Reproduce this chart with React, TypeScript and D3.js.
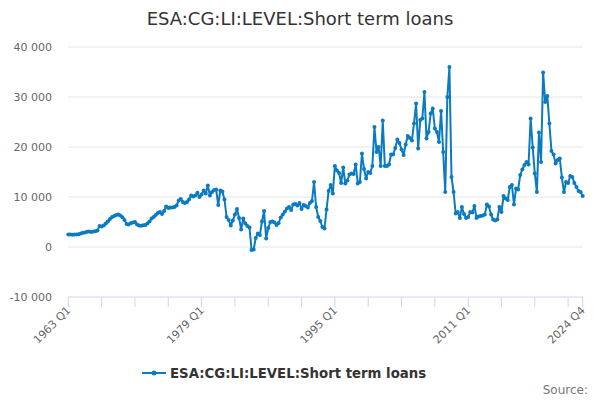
import * as d3 from "d3";

// quarterly series, 1963 Q1 .. 2024 Q4
const startYear = 1963;
const values: number[] = [
  2500, 2500, 2450, 2500, 2500, 2550, 2700, 2850, 2900, 3050,
  3100, 3000, 3100, 3150, 3300, 4200, 4100, 4300, 4700, 5100,
  5600, 6000, 6200, 6400, 6500, 6300, 5950, 5400, 4600, 4500,
  4750, 4900, 5000, 4500, 4300, 4250, 4350, 4400, 4700, 5100,
  5700, 6000, 6400, 6800, 7000, 6600, 7200, 8100, 7800, 7900,
  7900, 8000, 8300, 9300, 9600, 9000, 8800, 9000, 9500, 10300,
  10100, 10300, 10850, 10000, 10500, 11300, 10700, 12300, 10300, 11000,
  11400, 11500, 8400, 11300, 11100, 9500, 6000, 5400, 4300, 5300,
  6500, 7600, 5800, 3500, 5700, 4700, 4200, 3900, -600, -500,
  1800, 2700, 2400, 5100, 7200, 1700, 3800, 5000, 5100, 4900,
  4400, 4800, 5900, 6500, 7100, 7700, 8000, 7400, 8500, 8600,
  8300, 8800, 7600, 8400, 8200, 7900, 8800, 9200, 13000, 8000,
  6000, 5200, 4000, 3700, 7500, 11200, 12400, 10700, 16200, 15300,
  14800, 12800, 15900, 12700, 13300, 14500, 14700, 14600, 16500, 12700,
  13000, 18700, 15600, 13700, 15000, 14800, 16200, 24000, 19000, 20000,
  16200, 25300, 16200, 16200, 16500, 18500, 18500, 19800, 21500, 20800,
  19500, 18400, 20500, 22200, 21800, 21300, 24700, 28700, 19700, 25400,
  25700, 31000, 21700, 23000, 26700, 27700, 23700, 23000, 21000, 27200,
  19000, 11000, 30000, 36000, 14000, 11000, 6700, 7000, 5800, 8000,
  6600, 5800, 6000, 7000, 6900, 8200, 5800, 6100, 6200, 6300,
  6500, 8500, 8100, 6500, 5500, 5300, 5500, 8000, 7000, 10200,
  9700, 9400, 12000, 12400, 8500, 11700, 11500, 14400, 15500, 16400,
  17000, 16500, 25700, 19900, 14700, 11000, 22900, 17000, 34900, 29000,
  30200, 24700, 19200, 18500, 16700, 17400, 17700, 13900, 11000, 13000,
  12800, 14200, 14000, 12800, 12000, 11200, 11000, 10200,
];
const categories = values.map((_, i) => `${startYear + Math.floor(i / 4)} Q${(i % 4) + 1}`);
const labelledCats = ["1963 Q1", "1979 Q1", "1995 Q1", "2011 Q1", "2024 Q4"];
const yTicks = [-10000, 0, 10000, 20000, 30000, 40000];
const seriesName = "ESA:CG:LI:LEVEL:Short term loans";
const title = "ESA:CG:LI:LEVEL:Short term loans";

const W = 600, H = 400;
const ML = 68, MR = 17, MT = 47, MB = 103;
const COLOR = "#0b7bc1";
const FONT = "'DejaVu Sans', sans-serif";

const fmt = d3.formatLocale({ decimal: ".", thousands: " ", grouping: [3], currency: ["", ""], minus: "-" }).format(",");

export default function App() {
  const x = d3.scaleLinear().domain([0, categories.length - 1]).range([ML + 0.3, W - MR - 0.3]);
  const y = d3.scaleLinear().domain([-10000, 40000]).range([H - MB, MT]);

  const line = d3.line<number>().x((_, i) => x(i)).y(d => y(d));

  // tick every 16 quarters plus the last category
  const tickIdx = d3.range(0, categories.length, 16);
  if (tickIdx[tickIdx.length - 1] !== categories.length - 1) tickIdx.push(categories.length - 1);

  const base = y(-10000);

  return (
    <svg width={W} height={H} style={{ position: "absolute", left: 0, top: 0, fontFamily: FONT }}>
      <rect width={W} height={H} fill="#ffffff" />
      <text x={W / 2} y={25} textAnchor="middle" fontSize={18} fill="#333333">{title}</text>

      {yTicks.map(t => (
        <g key={t}>
          {t !== -10000 && (
            <line x1={ML} x2={W - MR} y1={y(t)} y2={y(t)} stroke="#e6e6e6" strokeWidth={1} />
          )}
          <text x={52} y={y(t) + 4} textAnchor="end" fontSize={11} fill="#666666">{fmt(t)}</text>
        </g>
      ))}

      <line x1={ML} x2={W - MR} y1={base} y2={base} stroke="#ccd6eb" strokeWidth={1} />
      {tickIdx.map(i => (
        <line key={i} x1={x(i)} x2={x(i)} y1={base} y2={base + 10} stroke="#ccd6eb" strokeWidth={1} />
      ))}
      {labelledCats.map(c => {
        const i = categories.indexOf(c);
        return (
          <text key={c} transform={`translate(${x(i) + 3},${base + 14}) rotate(-45)`}
            textAnchor="end" fontSize={11} fill="#666666">{c}</text>
        );
      })}

      <path d={line(values) ?? ""} fill="none" stroke={COLOR} strokeWidth={2} strokeLinejoin="round" />
      {values.map((v, i) => (
        <circle key={i} cx={x(i)} cy={y(v)} r={2} fill={COLOR} />
      ))}

      <line x1={142} x2={166} y1={373} y2={373} stroke={COLOR} strokeWidth={2} />
      <circle cx={154} cy={373} r={2.5} fill={COLOR} />
      <text x={170} y={378} fontSize={13.3} fontWeight="bold" fill="#333333">{seriesName}</text>

      <text x={588} y={394} textAnchor="end" fontSize={12} fill="#777777">Source:</text>
    </svg>
  );
}
